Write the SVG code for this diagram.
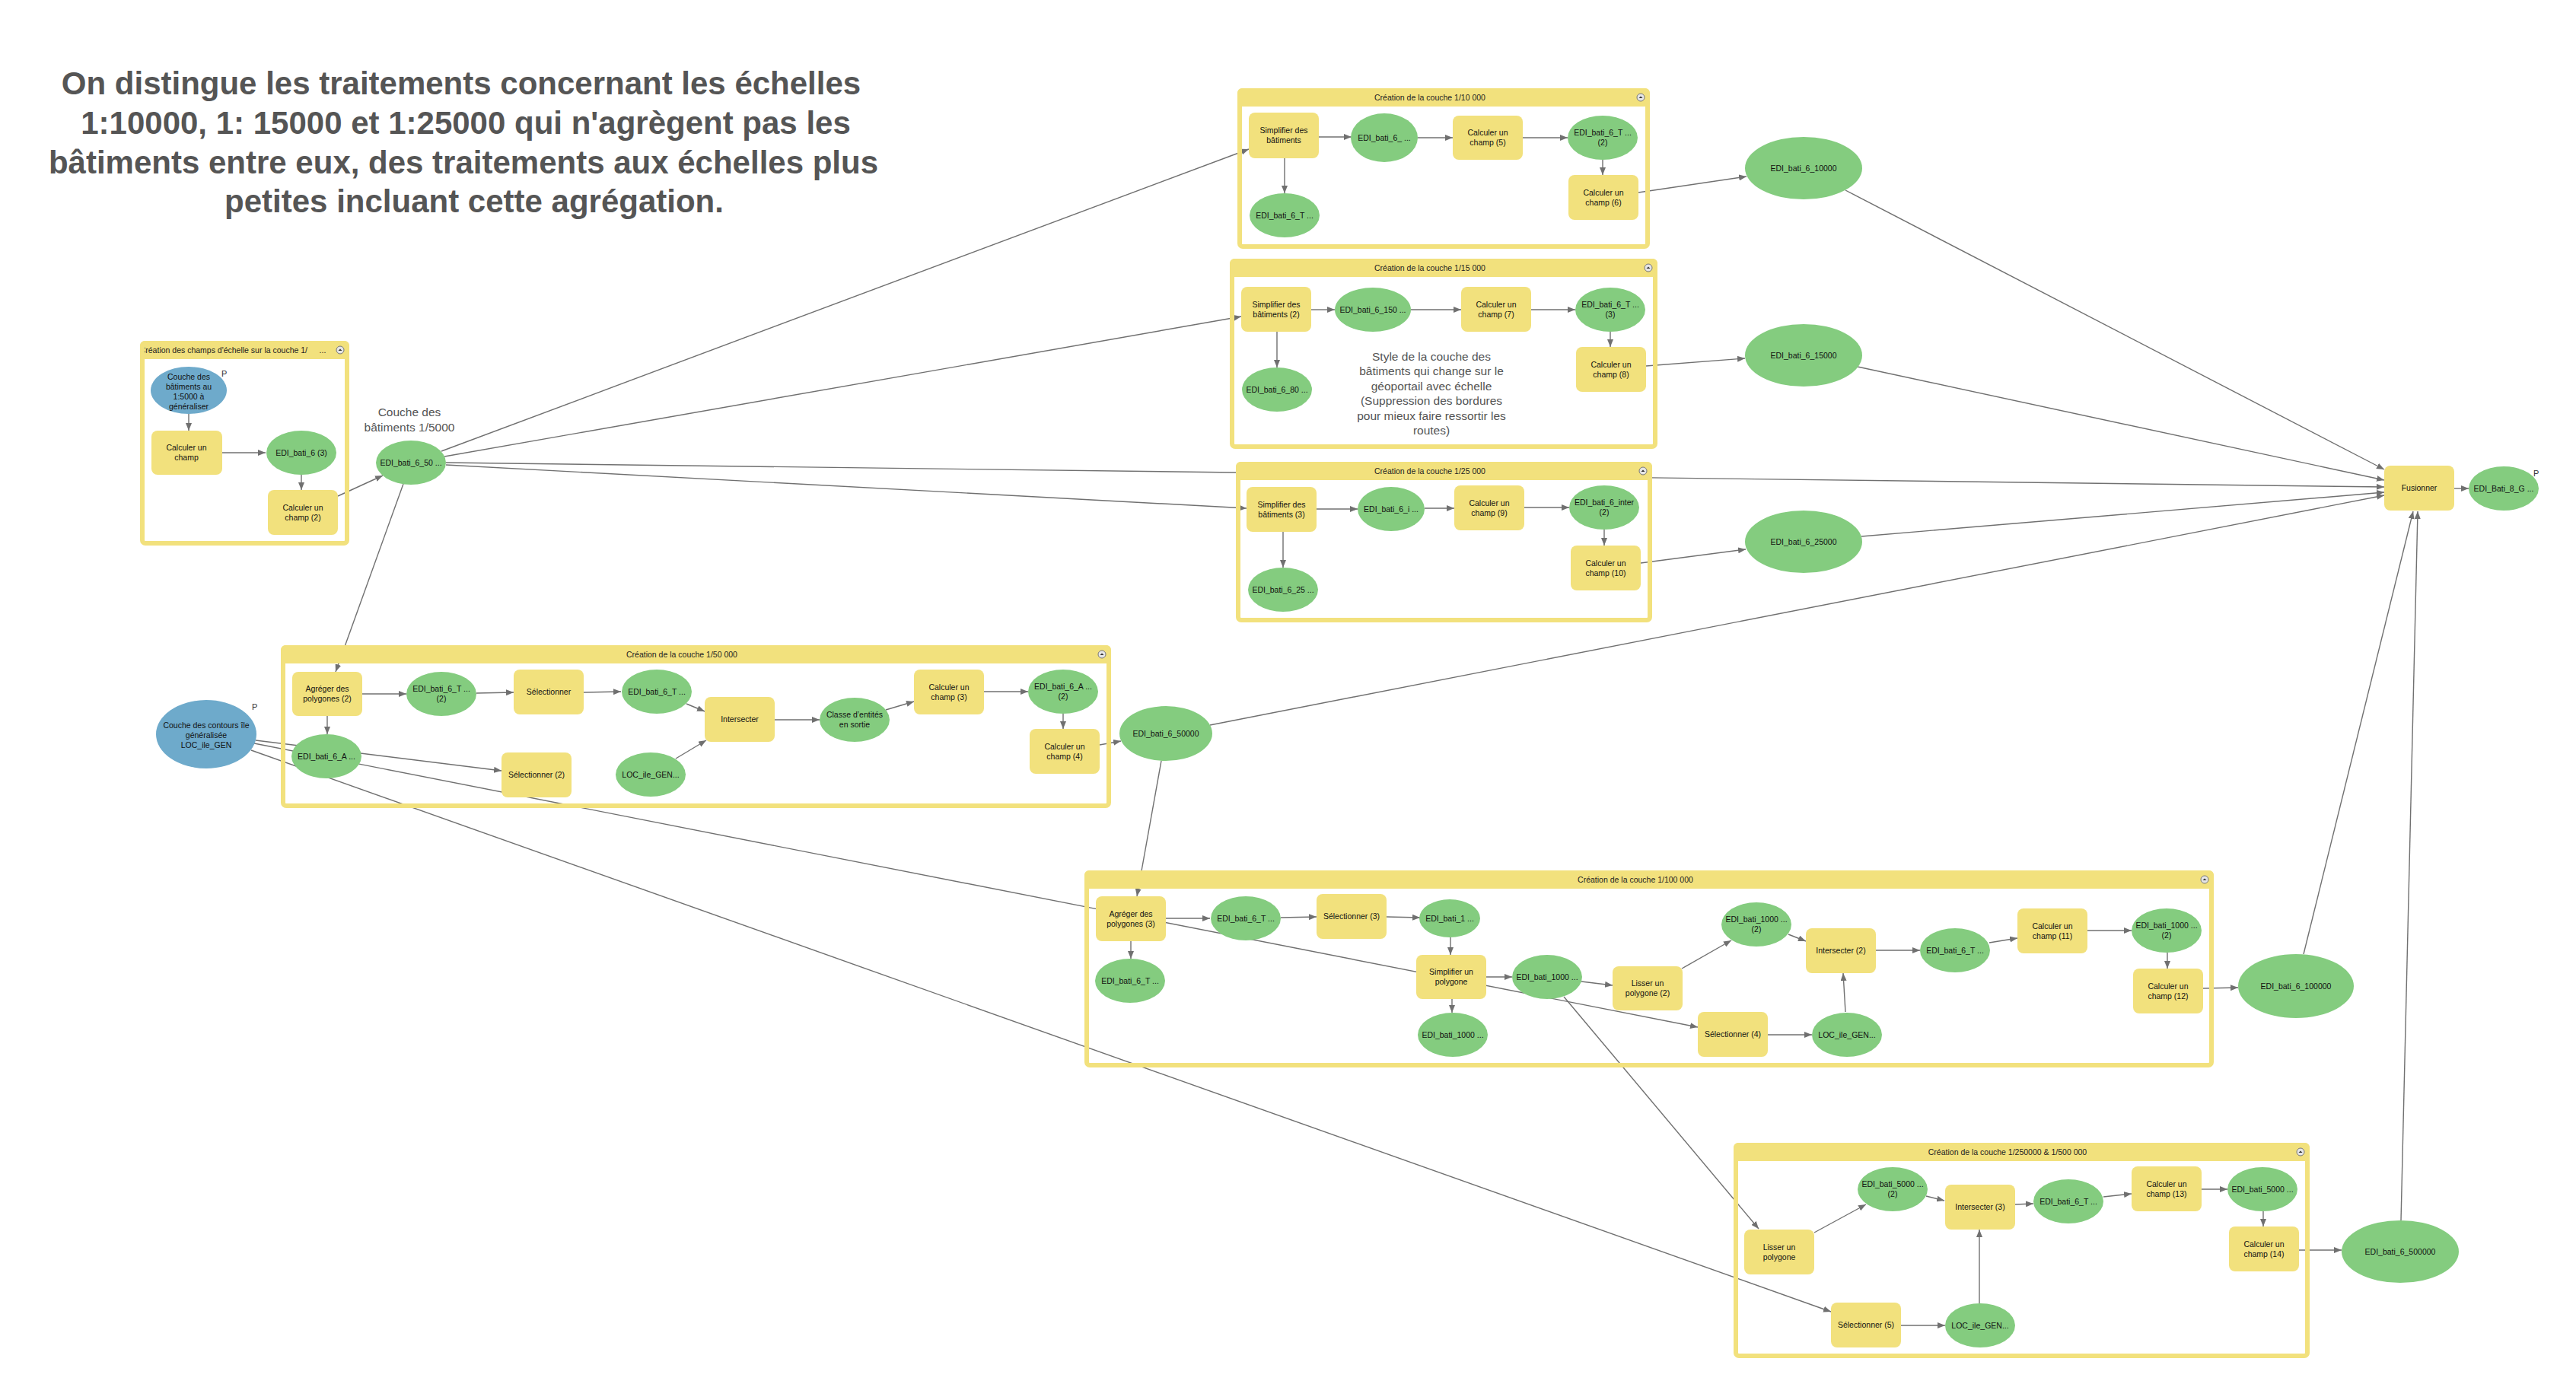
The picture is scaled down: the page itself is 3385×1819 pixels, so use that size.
<svg xmlns="http://www.w3.org/2000/svg" width="3385" height="1819" viewBox="0 0 3385 1819">
<style>
.c{stroke:#707070;stroke-width:1.4;fill:none;marker-end:url(#ah)}
.fr{fill:none;stroke:#F2E17D;stroke-width:6}
.hb{fill:#F2E17D}
.btn{fill:#e6e6e6;stroke:#777;stroke-width:1}
.bt{fill:#333}
.pr{fill:#F2E17D}
.da{fill:#84CC7F}
.in{fill:#6EAACB}
text{font-family:"Liberation Sans",Arial,sans-serif}
.t{font-size:10.5px;fill:#111;text-anchor:middle}
.hd{font-size:10.5px;fill:#222;text-anchor:middle}
.lbl{font-size:15.5px;fill:#555;text-anchor:middle}
.ttl{font-size:42px;font-weight:bold;fill:#555;text-anchor:middle}
.p{font-size:11px;fill:#333}
</style>
<defs>
<marker id="ah" viewBox="0 0 10 8" refX="10" refY="4" markerWidth="10" markerHeight="8" markerUnits="userSpaceOnUse" orient="auto"><path d="M0,0 L10,4 L0,8 z" fill="#707070"/></marker>
<clipPath id="clip0"><rect x="190" y="448" width="222" height="24"/></clipPath>
</defs>
<rect width="3385" height="1819" fill="#fff"/>

<g id="title">
<text class="ttl" x="606" y="124">On distingue les traitements concernant les échelles</text>
<text class="ttl" x="612" y="176"> 1:10000, 1: 15000 et 1:25000 qui n'agrègent pas les</text>
<text class="ttl" x="609" y="228">bâtiments entre eux, des traitements aux échelles plus</text>
<text class="ttl" x="623" y="279">petites incluant cette agrégation.</text>
</g>

<g id="connectors">
<path class="c" d="M248,544 L248,566"/>
<path class="c" d="M291,595 L349,595"/>
<path class="c" d="M396,624 L396,644"/>
<path class="c" d="M444,652 L503,625"/>
<path class="c" d="M580,593 L1641,196"/>
<path class="c" d="M584,600 L1631,416"/>
<path class="c" d="M586,611 L1638,668"/>
<path class="c" d="M586,608 L3133,640"/>
<path class="c" d="M530,636 L441,883"/>
<path class="c" d="M1733,180 L1776,180"/>
<path class="c" d="M1863,181 L1909,181"/>
<path class="c" d="M2001,181 L2060,181"/>
<path class="c" d="M2106,210 L2106,230"/>
<path class="c" d="M1688,207 L1688,254"/>
<path class="c" d="M2153,253 L2295,232"/>
<path class="c" d="M1723,407 L1754,407"/>
<path class="c" d="M1854,407 L1920,407"/>
<path class="c" d="M2012,407 L2070,407"/>
<path class="c" d="M2116,436 L2116,456"/>
<path class="c" d="M1678,436 L1678,483"/>
<path class="c" d="M2163,481 L2293,471"/>
<path class="c" d="M1730,669 L1784,669"/>
<path class="c" d="M1872,668 L1911,668"/>
<path class="c" d="M2003,667 L2062,667"/>
<path class="c" d="M2108,696 L2108,717"/>
<path class="c" d="M1686,699 L1686,746"/>
<path class="c" d="M2156,740 L2294,722"/>
<path class="c" d="M2425,250 L3133,617"/>
<path class="c" d="M2441,482 L3133,631"/>
<path class="c" d="M2446,705 L3133,647"/>
<path class="c" d="M1590,953 L3133,651"/>
<path class="c" d="M3027,1254 L3171,672"/>
<path class="c" d="M3155,1604 L3177,672"/>
<path class="c" d="M3225,642 L3244,642"/>
<path class="c" d="M476,912 L534,912"/>
<path class="c" d="M626,911 L675,910"/>
<path class="c" d="M767,910 L816,909"/>
<path class="c" d="M902,925 L926,935"/>
<path class="c" d="M888,997 L928,973"/>
<path class="c" d="M1018,946 L1077,946"/>
<path class="c" d="M1164,933 L1201,922"/>
<path class="c" d="M1293,909 L1351,909"/>
<path class="c" d="M1397,938 L1397,958"/>
<path class="c" d="M1445,979 L1473,974"/>
<path class="c" d="M430,941 L430,965"/>
<path class="c" d="M1526,1000 L1494,1178"/>
<path class="c" d="M336,973 L659,1013"/>
<path class="c" d="M334,977 L2231,1350"/>
<path class="c" d="M330,986 L2406,1724"/>
<path class="c" d="M1532,1207 L1590,1207"/>
<path class="c" d="M1683,1206 L1730,1205"/>
<path class="c" d="M1822,1205 L1866,1206"/>
<path class="c" d="M1906,1232 L1906,1255"/>
<path class="c" d="M1953,1284 L1987,1284"/>
<path class="c" d="M2078,1290 L2119,1295"/>
<path class="c" d="M1908,1313 L1908,1331"/>
<path class="c" d="M1486,1237 L1486,1260"/>
<path class="c" d="M2210,1273 L2275,1236"/>
<path class="c" d="M2350,1228 L2373,1237"/>
<path class="c" d="M2425,1330 L2422,1279"/>
<path class="c" d="M2465,1249 L2523,1249"/>
<path class="c" d="M2614,1239 L2651,1233"/>
<path class="c" d="M2743,1223 L2801,1223"/>
<path class="c" d="M2848,1252 L2848,1273"/>
<path class="c" d="M2895,1299 L2941,1298"/>
<path class="c" d="M2323,1360 L2381,1360"/>
<path class="c" d="M2055,1310 L2311,1615"/>
<path class="c" d="M2384,1620 L2452,1583"/>
<path class="c" d="M2531,1572 L2555,1578"/>
<path class="c" d="M2648,1583 L2672,1582"/>
<path class="c" d="M2764,1573 L2801,1569"/>
<path class="c" d="M2893,1563 L2927,1563"/>
<path class="c" d="M2974,1592 L2974,1612"/>
<path class="c" d="M3021,1643 L3077,1643"/>
<path class="c" d="M2498,1742 L2556,1742"/>
<path class="c" d="M2601,1713 L2601,1616"/>
</g>

<g id="box0">
<rect class="fr" x="187" y="451" width="269" height="263" rx="4"/>
<path class="hb" d="M184,454 a6,6 0 0 1 6,-6 H453 a6,6 0 0 1 6,6 V472 H184 z"/>
<text class="hd" x="404" y="463.5" clip-path="url(#clip0)" style="text-anchor:end">Création des champs d'échelle sur la couche 1/</text>
<text class="hd" x="424" y="463.5">...</text>
<circle class="btn" cx="447" cy="460" r="5"/><path class="bt" d="M444.5,461 L447,458.5 L449.5,461 z"/>
</g>
<g id="box1">
<rect class="fr" x="1629" y="119" width="536" height="205" rx="4"/>
<path class="hb" d="M1626,122 a6,6 0 0 1 6,-6 H2162 a6,6 0 0 1 6,6 V140 H1626 z"/>
<text class="hd" x="1879" y="131.5">Création de la couche 1/10 000</text>
<circle class="btn" cx="2156" cy="128" r="5"/><path class="bt" d="M2153.5,129 L2156,126.5 L2158.5,129 z"/>
</g>
<g id="box2">
<rect class="fr" x="1619" y="343" width="556" height="244" rx="4"/>
<path class="hb" d="M1616,346 a6,6 0 0 1 6,-6 H2172 a6,6 0 0 1 6,6 V364 H1616 z"/>
<text class="hd" x="1879" y="355.5">Création de la couche 1/15 000</text>
<circle class="btn" cx="2166" cy="352" r="5"/><path class="bt" d="M2163.5,353 L2166,350.5 L2168.5,353 z"/>
</g>
<g id="box3">
<rect class="fr" x="1627" y="610" width="541" height="205" rx="4"/>
<path class="hb" d="M1624,613 a6,6 0 0 1 6,-6 H2165 a6,6 0 0 1 6,6 V631 H1624 z"/>
<text class="hd" x="1879" y="622.5">Création de la couche 1/25 000</text>
<circle class="btn" cx="2159" cy="619" r="5"/><path class="bt" d="M2156.5,620 L2159,617.5 L2161.5,620 z"/>
</g>
<g id="box4">
<rect class="fr" x="372" y="851" width="1085" height="208" rx="4"/>
<path class="hb" d="M369,854 a6,6 0 0 1 6,-6 H1454 a6,6 0 0 1 6,6 V872 H369 z"/>
<text class="hd" x="896" y="863.5">Création de la couche 1/50 000</text>
<circle class="btn" cx="1448" cy="860" r="5"/><path class="bt" d="M1445.5,861 L1448,858.5 L1450.5,861 z"/>
</g>
<g id="box5">
<rect class="fr" x="1428" y="1147" width="1478" height="253" rx="4"/>
<path class="hb" d="M1425,1150 a6,6 0 0 1 6,-6 H2903 a6,6 0 0 1 6,6 V1168 H1425 z"/>
<text class="hd" x="2149" y="1159.5">Création de la couche 1/100 000</text>
<circle class="btn" cx="2897" cy="1156" r="5"/><path class="bt" d="M2894.5,1157 L2897,1154.5 L2899.5,1157 z"/>
</g>
<g id="box6">
<rect class="fr" x="2281" y="1505" width="751" height="277" rx="4"/>
<path class="hb" d="M2278,1508 a6,6 0 0 1 6,-6 H3029 a6,6 0 0 1 6,6 V1526 H2278 z"/>
<text class="hd" x="2638" y="1517.5">Création de la couche 1/250000 &amp; 1/500 000</text>
<circle class="btn" cx="3023" cy="1514" r="5"/><path class="bt" d="M3020.5,1515 L3023,1512.5 L3025.5,1515 z"/>
</g>

<g id="n_blue1"><ellipse class="in" cx="248" cy="513" rx="50" ry="31"/>
<text class="t" x="248" y="499">Couche des</text><text class="t" x="248" y="512">bâtiments au</text><text class="t" x="248" y="525">1:5000 à</text><text class="t" x="248" y="538">généraliser</text>
<text class="p" x="291" y="495">P</text></g>
<g id="p_calc"><rect class="pr" x="199" y="566" width="93" height="58" rx="8"/><text class="t" x="245" y="592">Calculer un</text><text class="t" x="245" y="605">champ</text></g>
<g id="n_edi6_3"><ellipse class="da" cx="396" cy="595" rx="46" ry="29"/><text class="t" x="396" y="599">EDI_bati_6 (3)</text></g>
<g id="p_calc2"><rect class="pr" x="352" y="644" width="92" height="59" rx="8"/><text class="t" x="398" y="671">Calculer un</text><text class="t" x="398" y="684">champ (2)</text></g>
<g id="n_edi50"><ellipse class="da" cx="540" cy="608" rx="46" ry="29"/><text class="t" x="540" y="612">EDI_bati_6_50 ...</text></g>
<g id="lbl_5000"><text class="lbl" x="538" y="547">Couche des</text><text class="lbl" x="538" y="567">bâtiments 1/5000</text></g>

<g id="p_simp1"><rect class="pr" x="1641" y="148" width="92" height="60" rx="8"/><text class="t" x="1687" y="175">Simplifier des</text><text class="t" x="1687" y="188">bâtiments</text></g>
<g id="n_e1"><ellipse class="da" cx="1819" cy="181" rx="44" ry="32"/><text class="t" x="1819" y="185">EDI_bati_6_ ...</text></g>
<g id="p_calc5"><rect class="pr" x="1909" y="152" width="92" height="58" rx="8"/><text class="t" x="1955" y="178">Calculer un</text><text class="t" x="1955" y="191">champ (5)</text></g>
<g id="n_e2"><ellipse class="da" cx="2106" cy="181" rx="46" ry="29"/><text class="t" x="2106" y="178">EDI_bati_6_T ...</text><text class="t" x="2106" y="191">(2)</text></g>
<g id="p_calc6"><rect class="pr" x="2061" y="230" width="92" height="59" rx="8"/><text class="t" x="2107" y="257">Calculer un</text><text class="t" x="2107" y="270">champ (6)</text></g>
<g id="n_e3"><ellipse class="da" cx="1688" cy="283" rx="46" ry="29"/><text class="t" x="1688" y="287">EDI_bati_6_T ...</text></g>
<g id="n_10000"><ellipse class="da" cx="2370" cy="221" rx="77" ry="41"/><text class="t" x="2370" y="225">EDI_bati_6_10000</text></g>

<g id="p_simp2"><rect class="pr" x="1631" y="377" width="92" height="59" rx="8"/><text class="t" x="1677" y="404">Simplifier des</text><text class="t" x="1677" y="417">bâtiments (2)</text></g>
<g id="n_e150"><ellipse class="da" cx="1804" cy="407" rx="50" ry="29"/><text class="t" x="1804" y="411">EDI_bati_6_150  ...</text></g>
<g id="p_calc7"><rect class="pr" x="1920" y="377" width="92" height="59" rx="8"/><text class="t" x="1966" y="404">Calculer un</text><text class="t" x="1966" y="417">champ (7)</text></g>
<g id="n_eT3"><ellipse class="da" cx="2116" cy="407" rx="46" ry="29"/><text class="t" x="2116" y="404">EDI_bati_6_T ...</text><text class="t" x="2116" y="417">(3)</text></g>
<g id="p_calc8"><rect class="pr" x="2071" y="456" width="92" height="59" rx="8"/><text class="t" x="2117" y="483">Calculer un</text><text class="t" x="2117" y="496">champ (8)</text></g>
<g id="n_e80"><ellipse class="da" cx="1678" cy="512" rx="46" ry="29"/><text class="t" x="1678" y="516">EDI_bati_6_80 ...</text></g>
<g id="lbl_style"><text class="lbl" x="1881" y="474">Style de la couche des</text><text class="lbl" x="1881" y="493">bâtiments qui change sur le</text><text class="lbl" x="1881" y="513">géoportail avec échelle</text><text class="lbl" x="1881" y="532">(Suppression des bordures</text><text class="lbl" x="1881" y="552">pour mieux faire ressortir les</text><text class="lbl" x="1881" y="571">routes)</text></g>
<g id="n_15000"><ellipse class="da" cx="2370" cy="467" rx="77" ry="41"/><text class="t" x="2370" y="471">EDI_bati_6_15000</text></g>

<g id="p_simp3"><rect class="pr" x="1638" y="640" width="92" height="59" rx="8"/><text class="t" x="1684" y="667">Simplifier des</text><text class="t" x="1684" y="680">bâtiments (3)</text></g>
<g id="n_ei"><ellipse class="da" cx="1828" cy="669" rx="44" ry="29"/><text class="t" x="1828" y="673">EDI_bati_6_i ...</text></g>
<g id="p_calc9"><rect class="pr" x="1911" y="638" width="92" height="59" rx="8"/><text class="t" x="1957" y="665">Calculer un</text><text class="t" x="1957" y="678">champ (9)</text></g>
<g id="n_einter"><ellipse class="da" cx="2108" cy="667" rx="46" ry="29"/><text class="t" x="2108" y="664">EDI_bati_6_inter</text><text class="t" x="2108" y="677">(2)</text></g>
<g id="p_calc10"><rect class="pr" x="2064" y="717" width="92" height="59" rx="8"/><text class="t" x="2110" y="744">Calculer un</text><text class="t" x="2110" y="757">champ (10)</text></g>
<g id="n_e25"><ellipse class="da" cx="1686" cy="775" rx="46" ry="29"/><text class="t" x="1686" y="779">EDI_bati_6_25 ...</text></g>
<g id="n_25000"><ellipse class="da" cx="2370" cy="712" rx="77" ry="41"/><text class="t" x="2370" y="716">EDI_bati_6_25000</text></g>

<g id="n_blue2"><ellipse class="in" cx="271" cy="965" rx="66" ry="45"/>
<text class="t" x="271" y="957">Couche des contours île</text><text class="t" x="271" y="970">généralisée</text><text class="t" x="271" y="983">LOC_ile_GEN</text>
<text class="p" x="331" y="933">P</text></g>
<g id="p_agr2"><rect class="pr" x="384" y="883" width="92" height="58" rx="8"/><text class="t" x="430" y="909">Agréger des</text><text class="t" x="430" y="922">polygones (2)</text></g>
<g id="n_eT2"><ellipse class="da" cx="580" cy="912" rx="46" ry="29"/><text class="t" x="580" y="909">EDI_bati_6_T ...</text><text class="t" x="580" y="922">(2)</text></g>
<g id="p_sel"><rect class="pr" x="675" y="880" width="92" height="59" rx="8"/><text class="t" x="721" y="913">Sélectionner</text></g>
<g id="n_eT"><ellipse class="da" cx="863" cy="909" rx="46" ry="29"/><text class="t" x="863" y="913">EDI_bati_6_T ...</text></g>
<g id="p_inter"><rect class="pr" x="926" y="916" width="92" height="59" rx="8"/><text class="t" x="972" y="949">Intersecter</text></g>
<g id="n_classe"><ellipse class="da" cx="1123" cy="946" rx="46" ry="29"/><text class="t" x="1123" y="943">Classe d’entités</text><text class="t" x="1123" y="956">en sortie</text></g>
<g id="p_calc3"><rect class="pr" x="1201" y="880" width="92" height="59" rx="8"/><text class="t" x="1247" y="907">Calculer un</text><text class="t" x="1247" y="920">champ (3)</text></g>
<g id="n_eA2"><ellipse class="da" cx="1397" cy="909" rx="46" ry="29"/><text class="t" x="1397" y="906">EDI_bati_6_A ...</text><text class="t" x="1397" y="919">(2)</text></g>
<g id="p_calc4"><rect class="pr" x="1353" y="958" width="92" height="59" rx="8"/><text class="t" x="1399" y="985">Calculer un</text><text class="t" x="1399" y="998">champ (4)</text></g>
<g id="n_eA"><ellipse class="da" cx="429" cy="994" rx="46" ry="29"/><text class="t" x="429" y="998">EDI_bati_6_A ...</text></g>
<g id="p_sel2"><rect class="pr" x="659" y="989" width="92" height="59" rx="8"/><text class="t" x="705" y="1022">Sélectionner (2)</text></g>
<g id="n_loc1"><ellipse class="da" cx="855" cy="1018" rx="46" ry="29"/><text class="t" x="855" y="1022">LOC_ile_GEN...</text></g>
<g id="n_50000"><ellipse class="da" cx="1532" cy="964" rx="61" ry="36"/><text class="t" x="1532" y="968">EDI_bati_6_50000</text></g>

<g id="p_agr3"><rect class="pr" x="1440" y="1178" width="92" height="59" rx="8"/><text class="t" x="1486" y="1205">Agréger des</text><text class="t" x="1486" y="1218">polygones (3)</text></g>
<g id="n_eT_a"><ellipse class="da" cx="1637" cy="1207" rx="46" ry="29"/><text class="t" x="1637" y="1211">EDI_bati_6_T ...</text></g>
<g id="p_sel3"><rect class="pr" x="1730" y="1175" width="92" height="59" rx="8"/><text class="t" x="1776" y="1208">Sélectionner (3)</text></g>
<g id="n_e1_"><ellipse class="da" cx="1905" cy="1207" rx="40" ry="25"/><text class="t" x="1905" y="1211">EDI_bati_1 ...</text></g>
<g id="p_simpl"><rect class="pr" x="1861" y="1255" width="92" height="58" rx="8"/><text class="t" x="1907" y="1281">Simplifier un</text><text class="t" x="1907" y="1294">polygone</text></g>
<g id="n_e1000a"><ellipse class="da" cx="2033" cy="1284" rx="46" ry="29"/><text class="t" x="2033" y="1288">EDI_bati_1000 ...</text></g>
<g id="n_eT_b"><ellipse class="da" cx="1485" cy="1289" rx="46" ry="29"/><text class="t" x="1485" y="1293">EDI_bati_6_T ...</text></g>
<g id="n_e1000b"><ellipse class="da" cx="1909" cy="1360" rx="46" ry="29"/><text class="t" x="1909" y="1364">EDI_bati_1000 ...</text></g>
<g id="p_liss2"><rect class="pr" x="2119" y="1270" width="92" height="58" rx="8"/><text class="t" x="2165" y="1296">Lisser un</text><text class="t" x="2165" y="1309">polygone (2)</text></g>
<g id="n_e1000c"><ellipse class="da" cx="2308" cy="1215" rx="46" ry="29"/><text class="t" x="2308" y="1212">EDI_bati_1000 ...</text><text class="t" x="2308" y="1225">(2)</text></g>
<g id="p_inter2"><rect class="pr" x="2373" y="1220" width="92" height="59" rx="8"/><text class="t" x="2419" y="1253">Intersecter (2)</text></g>
<g id="n_eT_c"><ellipse class="da" cx="2569" cy="1249" rx="46" ry="29"/><text class="t" x="2569" y="1253">EDI_bati_6_T ...</text></g>
<g id="p_calc11"><rect class="pr" x="2651" y="1194" width="92" height="59" rx="8"/><text class="t" x="2697" y="1221">Calculer un</text><text class="t" x="2697" y="1234">champ (11)</text></g>
<g id="n_e1000d"><ellipse class="da" cx="2847" cy="1223" rx="46" ry="29"/><text class="t" x="2847" y="1220">EDI_bati_1000 ...</text><text class="t" x="2847" y="1233">(2)</text></g>
<g id="p_calc12"><rect class="pr" x="2803" y="1273" width="92" height="59" rx="8"/><text class="t" x="2849" y="1300">Calculer un</text><text class="t" x="2849" y="1313">champ (12)</text></g>
<g id="p_sel4"><rect class="pr" x="2231" y="1330" width="92" height="59" rx="8"/><text class="t" x="2277" y="1363">Sélectionner (4)</text></g>
<g id="n_loc2"><ellipse class="da" cx="2427" cy="1360" rx="46" ry="29"/><text class="t" x="2427" y="1364">LOC_ile_GEN...</text></g>
<g id="n_100000"><ellipse class="da" cx="3017" cy="1296" rx="76" ry="42"/><text class="t" x="3017" y="1300">EDI_bati_6_100000</text></g>

<g id="p_liss"><rect class="pr" x="2292" y="1616" width="92" height="59" rx="8"/><text class="t" x="2338" y="1643">Lisser un</text><text class="t" x="2338" y="1656">polygone</text></g>
<g id="n_e5000a"><ellipse class="da" cx="2487" cy="1563" rx="46" ry="29"/><text class="t" x="2487" y="1560">EDI_bati_5000 ...</text><text class="t" x="2487" y="1573">(2)</text></g>
<g id="p_inter3"><rect class="pr" x="2556" y="1557" width="92" height="59" rx="8"/><text class="t" x="2602" y="1590">Intersecter (3)</text></g>
<g id="n_eT_d"><ellipse class="da" cx="2718" cy="1579" rx="46" ry="29"/><text class="t" x="2718" y="1583">EDI_bati_6_T ...</text></g>
<g id="p_calc13"><rect class="pr" x="2801" y="1533" width="92" height="59" rx="8"/><text class="t" x="2847" y="1560">Calculer un</text><text class="t" x="2847" y="1573">champ (13)</text></g>
<g id="n_e5000b"><ellipse class="da" cx="2973" cy="1563" rx="46" ry="29"/><text class="t" x="2973" y="1567">EDI_bati_5000 ...</text></g>
<g id="p_calc14"><rect class="pr" x="2929" y="1612" width="92" height="59" rx="8"/><text class="t" x="2975" y="1639">Calculer un</text><text class="t" x="2975" y="1652">champ (14)</text></g>
<g id="p_sel5"><rect class="pr" x="2406" y="1712" width="92" height="59" rx="8"/><text class="t" x="2452" y="1745">Sélectionner (5)</text></g>
<g id="n_loc3"><ellipse class="da" cx="2602" cy="1742" rx="46" ry="29"/><text class="t" x="2602" y="1746">LOC_ile_GEN...</text></g>
<g id="n_500000"><ellipse class="da" cx="3154" cy="1645" rx="77" ry="41"/><text class="t" x="3154" y="1649">EDI_bati_6_500000</text></g>

<g id="p_fus"><rect class="pr" x="3133" y="612" width="92" height="59" rx="8"/><text class="t" x="3179" y="645">Fusionner</text></g>
<g id="n_bati8"><ellipse class="da" cx="3290" cy="642" rx="46" ry="29"/><text class="t" x="3290" y="646">EDI_Bati_8_G ...</text>
<text class="p" x="3329" y="626">P</text></g>
</svg>
